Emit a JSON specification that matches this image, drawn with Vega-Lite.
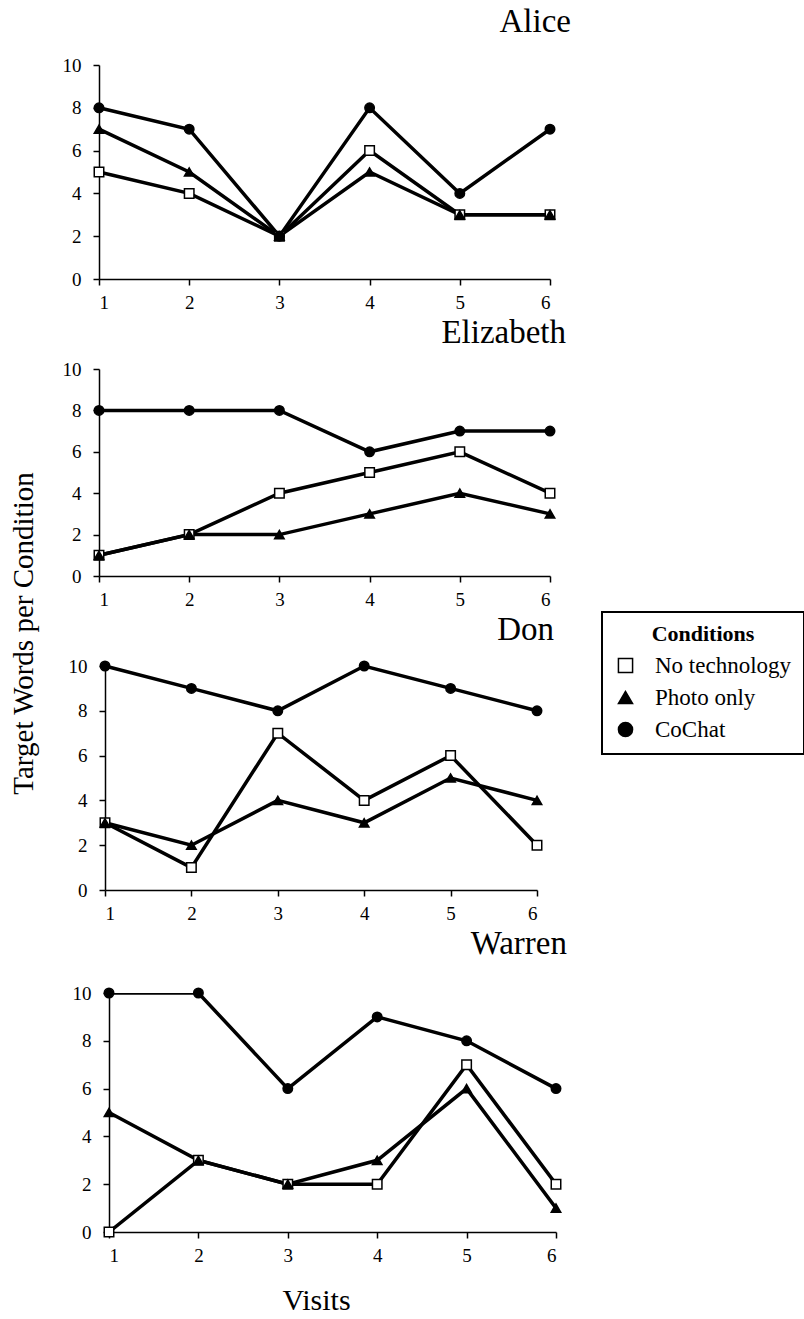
{
  "$schema": "https://vega.github.io/schema/vega-lite/v6.json",
  "background": "white",
  "padding": {"left": 9, "top": 6, "right": 0, "bottom": 0},
  "title": {"text": "Target Words per Condition", "orient": "left", "anchor": "middle", "font": "Liberation Serif", "fontSize": 29, "fontWeight": "normal", "color": "black", "offset": 23, "dx": 27},
  "data": {"values": [
    {"p": "Alice", "visit": 1, "cond": "No technology", "words": 5},
    {"p": "Alice", "visit": 2, "cond": "No technology", "words": 4},
    {"p": "Alice", "visit": 3, "cond": "No technology", "words": 2},
    {"p": "Alice", "visit": 4, "cond": "No technology", "words": 6},
    {"p": "Alice", "visit": 5, "cond": "No technology", "words": 3},
    {"p": "Alice", "visit": 6, "cond": "No technology", "words": 3},
    {"p": "Alice", "visit": 1, "cond": "Photo only", "words": 7},
    {"p": "Alice", "visit": 2, "cond": "Photo only", "words": 5},
    {"p": "Alice", "visit": 3, "cond": "Photo only", "words": 2},
    {"p": "Alice", "visit": 4, "cond": "Photo only", "words": 5},
    {"p": "Alice", "visit": 5, "cond": "Photo only", "words": 3},
    {"p": "Alice", "visit": 6, "cond": "Photo only", "words": 3},
    {"p": "Alice", "visit": 1, "cond": "CoChat", "words": 8},
    {"p": "Alice", "visit": 2, "cond": "CoChat", "words": 7},
    {"p": "Alice", "visit": 3, "cond": "CoChat", "words": 2},
    {"p": "Alice", "visit": 4, "cond": "CoChat", "words": 8},
    {"p": "Alice", "visit": 5, "cond": "CoChat", "words": 4},
    {"p": "Alice", "visit": 6, "cond": "CoChat", "words": 7},
    {"p": "Elizabeth", "visit": 1, "cond": "No technology", "words": 1},
    {"p": "Elizabeth", "visit": 2, "cond": "No technology", "words": 2},
    {"p": "Elizabeth", "visit": 3, "cond": "No technology", "words": 4},
    {"p": "Elizabeth", "visit": 4, "cond": "No technology", "words": 5},
    {"p": "Elizabeth", "visit": 5, "cond": "No technology", "words": 6},
    {"p": "Elizabeth", "visit": 6, "cond": "No technology", "words": 4},
    {"p": "Elizabeth", "visit": 1, "cond": "Photo only", "words": 1},
    {"p": "Elizabeth", "visit": 2, "cond": "Photo only", "words": 2},
    {"p": "Elizabeth", "visit": 3, "cond": "Photo only", "words": 2},
    {"p": "Elizabeth", "visit": 4, "cond": "Photo only", "words": 3},
    {"p": "Elizabeth", "visit": 5, "cond": "Photo only", "words": 4},
    {"p": "Elizabeth", "visit": 6, "cond": "Photo only", "words": 3},
    {"p": "Elizabeth", "visit": 1, "cond": "CoChat", "words": 8},
    {"p": "Elizabeth", "visit": 2, "cond": "CoChat", "words": 8},
    {"p": "Elizabeth", "visit": 3, "cond": "CoChat", "words": 8},
    {"p": "Elizabeth", "visit": 4, "cond": "CoChat", "words": 6},
    {"p": "Elizabeth", "visit": 5, "cond": "CoChat", "words": 7},
    {"p": "Elizabeth", "visit": 6, "cond": "CoChat", "words": 7},
    {"p": "Don", "visit": 1, "cond": "No technology", "words": 3},
    {"p": "Don", "visit": 2, "cond": "No technology", "words": 1},
    {"p": "Don", "visit": 3, "cond": "No technology", "words": 7},
    {"p": "Don", "visit": 4, "cond": "No technology", "words": 4},
    {"p": "Don", "visit": 5, "cond": "No technology", "words": 6},
    {"p": "Don", "visit": 6, "cond": "No technology", "words": 2},
    {"p": "Don", "visit": 1, "cond": "Photo only", "words": 3},
    {"p": "Don", "visit": 2, "cond": "Photo only", "words": 2},
    {"p": "Don", "visit": 3, "cond": "Photo only", "words": 4},
    {"p": "Don", "visit": 4, "cond": "Photo only", "words": 3},
    {"p": "Don", "visit": 5, "cond": "Photo only", "words": 5},
    {"p": "Don", "visit": 6, "cond": "Photo only", "words": 4},
    {"p": "Don", "visit": 1, "cond": "CoChat", "words": 10},
    {"p": "Don", "visit": 2, "cond": "CoChat", "words": 9},
    {"p": "Don", "visit": 3, "cond": "CoChat", "words": 8},
    {"p": "Don", "visit": 4, "cond": "CoChat", "words": 10},
    {"p": "Don", "visit": 5, "cond": "CoChat", "words": 9},
    {"p": "Don", "visit": 6, "cond": "CoChat", "words": 8},
    {"p": "Warren", "visit": 1, "cond": "No technology", "words": 0},
    {"p": "Warren", "visit": 2, "cond": "No technology", "words": 3},
    {"p": "Warren", "visit": 3, "cond": "No technology", "words": 2},
    {"p": "Warren", "visit": 4, "cond": "No technology", "words": 2},
    {"p": "Warren", "visit": 5, "cond": "No technology", "words": 7},
    {"p": "Warren", "visit": 6, "cond": "No technology", "words": 2},
    {"p": "Warren", "visit": 1, "cond": "Photo only", "words": 5},
    {"p": "Warren", "visit": 2, "cond": "Photo only", "words": 3},
    {"p": "Warren", "visit": 3, "cond": "Photo only", "words": 2},
    {"p": "Warren", "visit": 4, "cond": "Photo only", "words": 3},
    {"p": "Warren", "visit": 5, "cond": "Photo only", "words": 6},
    {"p": "Warren", "visit": 6, "cond": "Photo only", "words": 1},
    {"p": "Warren", "visit": 1, "cond": "CoChat", "words": 10},
    {"p": "Warren", "visit": 2, "cond": "CoChat", "words": 10},
    {"p": "Warren", "visit": 3, "cond": "CoChat", "words": 6},
    {"p": "Warren", "visit": 4, "cond": "CoChat", "words": 9},
    {"p": "Warren", "visit": 5, "cond": "CoChat", "words": 8},
    {"p": "Warren", "visit": 6, "cond": "CoChat", "words": 6}
  ]},
  "config": {
    "font": "Liberation Serif",
    "view": {"stroke": null},
    "axis": {"grid": false, "domainColor": "black", "domainWidth": 1.5, "tickColor": "black", "tickWidth": 1.5, "tickSize": 6, "labelFont": "Liberation Serif", "labelFontSize": 19, "labelColor": "black", "titleFont": "Liberation Serif", "titleFontWeight": "normal", "titleColor": "black"},
    "title": {"font": "Liberation Serif", "fontWeight": "normal", "color": "black", "fontSize": 33},
    "legend": {"orient": "none", "legendX": 503, "legendY": 547, "strokeColor": "black", "strokeWidth": 2, "padding": 12, "titleFont": "Liberation Serif", "titleFontSize": 22, "titleFontWeight": "bold", "titleColor": "black", "titleAnchor": "middle", "titlePadding": 8, "labelFont": "Liberation Serif", "labelFontSize": 23, "labelColor": "black", "symbolSize": 200, "symbolStrokeColor": "black", "symbolStrokeWidth": 1.5, "rowPadding": 8, "labelOffset": 18, "fillColor": "white", "cornerRadius": 0}
  },
  "spacing": 5,
  "resolve": {"scale": {"x": "independent", "y": "independent"}},
  "vconcat": [
    {
      "width": 451, "height": 214,
      "title": {"text": "Alice", "anchor": "end", "frame": "group", "dx": 21, "offset": 17},
      "transform": [{"filter": "datum.p === 'Alice'"}],
      "layer": [
        {"mark": {"type": "line", "color": "black", "strokeWidth": 3.5},
         "encoding": {
           "x": {"field": "visit", "type": "quantitative", "scale": {"domain": [1, 6], "nice": false, "zero": false}, "axis": {"values": [1, 2, 3, 4, 5, 6], "title": null, "labelPadding": 8, "format": "d"}},
           "y": {"field": "words", "type": "quantitative", "scale": {"domain": [0, 10]}, "axis": {"values": [0, 2, 4, 6, 8, 10], "title": null, "labelPadding": 12}},
           "detail": {"field": "cond"}}},
        {"mark": {"type": "point", "filled": true, "strokeWidth": 1.5, "size": 90, "opacity": 1},
         "encoding": {
           "x": {"field": "visit", "type": "quantitative"},
           "y": {"field": "words", "type": "quantitative"},
           "shape": {"field": "cond", "type": "nominal", "title": "Conditions", "scale": {"domain": ["No technology", "Photo only", "CoChat"], "range": ["square", "triangle-up", "circle"]}},
           "fill": {"field": "cond", "type": "nominal", "title": "Conditions", "scale": {"domain": ["No technology", "Photo only", "CoChat"], "range": ["white", "black", "black"]}},
           "stroke": {"field": "cond", "type": "nominal", "title": "Conditions", "scale": {"domain": ["No technology", "Photo only", "CoChat"], "range": ["black", "black", "black"]}}}}
      ]
    },
    {
      "width": 451, "height": 207,
      "title": {"text": "Elizabeth", "anchor": "end", "frame": "group", "dx": 16, "offset": 10},
      "transform": [{"filter": "datum.p === 'Elizabeth'"}],
      "layer": [
        {"mark": {"type": "line", "color": "black", "strokeWidth": 3.5},
         "encoding": {
           "x": {"field": "visit", "type": "quantitative", "scale": {"domain": [1, 6], "nice": false, "zero": false}, "axis": {"values": [1, 2, 3, 4, 5, 6], "title": null, "labelPadding": 8, "format": "d"}},
           "y": {"field": "words", "type": "quantitative", "scale": {"domain": [0, 10]}, "axis": {"values": [0, 2, 4, 6, 8, 10], "title": null, "labelPadding": 12}},
           "detail": {"field": "cond"}}},
        {"mark": {"type": "point", "filled": true, "strokeWidth": 1.5, "size": 90, "opacity": 1},
         "encoding": {
           "x": {"field": "visit", "type": "quantitative"},
           "y": {"field": "words", "type": "quantitative"},
           "shape": {"field": "cond", "type": "nominal", "title": "Conditions", "scale": {"domain": ["No technology", "Photo only", "CoChat"], "range": ["square", "triangle-up", "circle"]}},
           "fill": {"field": "cond", "type": "nominal", "title": "Conditions", "scale": {"domain": ["No technology", "Photo only", "CoChat"], "range": ["white", "black", "black"]}},
           "stroke": {"field": "cond", "type": "nominal", "title": "Conditions", "scale": {"domain": ["No technology", "Photo only", "CoChat"], "range": ["black", "black", "black"]}}}}
      ]
    },
    {
      "width": 438, "height": 224,
      "title": {"text": "Don", "anchor": "end", "frame": "group", "dx": 17, "offset": 10},
      "transform": [{"filter": "datum.p === 'Don'"}],
      "layer": [
        {"mark": {"type": "line", "color": "black", "strokeWidth": 3.5},
         "encoding": {
           "x": {"field": "visit", "type": "quantitative", "scale": {"domain": [1, 6], "range": [6, 438], "nice": false, "zero": false}, "axis": {"values": [1, 2, 3, 4, 5, 6], "title": null, "labelPadding": 8, "format": "d"}},
           "y": {"field": "words", "type": "quantitative", "scale": {"domain": [0, 10]}, "axis": {"values": [0, 2, 4, 6, 8, 10], "title": null, "labelPadding": 12, "offset": -6}},
           "detail": {"field": "cond"}}},
        {"mark": {"type": "point", "filled": true, "strokeWidth": 1.5, "size": 90, "opacity": 1},
         "encoding": {
           "x": {"field": "visit", "type": "quantitative"},
           "y": {"field": "words", "type": "quantitative"},
           "shape": {"field": "cond", "type": "nominal", "title": "Conditions", "scale": {"domain": ["No technology", "Photo only", "CoChat"], "range": ["square", "triangle-up", "circle"]}},
           "fill": {"field": "cond", "type": "nominal", "title": "Conditions", "scale": {"domain": ["No technology", "Photo only", "CoChat"], "range": ["white", "black", "black"]}},
           "stroke": {"field": "cond", "type": "nominal", "title": "Conditions", "scale": {"domain": ["No technology", "Photo only", "CoChat"], "range": ["black", "black", "black"]}}}}
      ]
    },
    {
      "width": 457, "height": 239,
      "title": {"text": "Warren", "anchor": "end", "frame": "group", "dx": 11, "offset": 23},
      "transform": [{"filter": "datum.p === 'Warren'"}],
      "layer": [
        {"mark": {"type": "line", "color": "black", "strokeWidth": 3.5, "clip": true},
         "encoding": {
           "x": {"field": "visit", "type": "quantitative", "scale": {"domain": [1, 6], "range": [10, 457], "nice": false, "zero": false}, "axis": {"values": [1, 2, 3, 4, 5, 6], "title": "Visits", "titleFontSize": 30, "titlePadding": 20, "titleX": 217, "labelPadding": 8, "format": "d"}},
           "y": {"field": "words", "type": "quantitative", "scale": {"domain": [0, 10]}, "axis": {"values": [0, 2, 4, 6, 8, 10], "title": null, "labelPadding": 12, "offset": -10}},
           "detail": {"field": "cond"}}},
        {"mark": {"type": "point", "filled": true, "strokeWidth": 1.5, "size": 90, "opacity": 1},
         "encoding": {
           "x": {"field": "visit", "type": "quantitative"},
           "y": {"field": "words", "type": "quantitative"},
           "shape": {"field": "cond", "type": "nominal", "title": "Conditions", "scale": {"domain": ["No technology", "Photo only", "CoChat"], "range": ["square", "triangle-up", "circle"]}},
           "fill": {"field": "cond", "type": "nominal", "title": "Conditions", "scale": {"domain": ["No technology", "Photo only", "CoChat"], "range": ["white", "black", "black"]}},
           "stroke": {"field": "cond", "type": "nominal", "title": "Conditions", "scale": {"domain": ["No technology", "Photo only", "CoChat"], "range": ["black", "black", "black"]}}}}
      ]
    }
  ]
}
